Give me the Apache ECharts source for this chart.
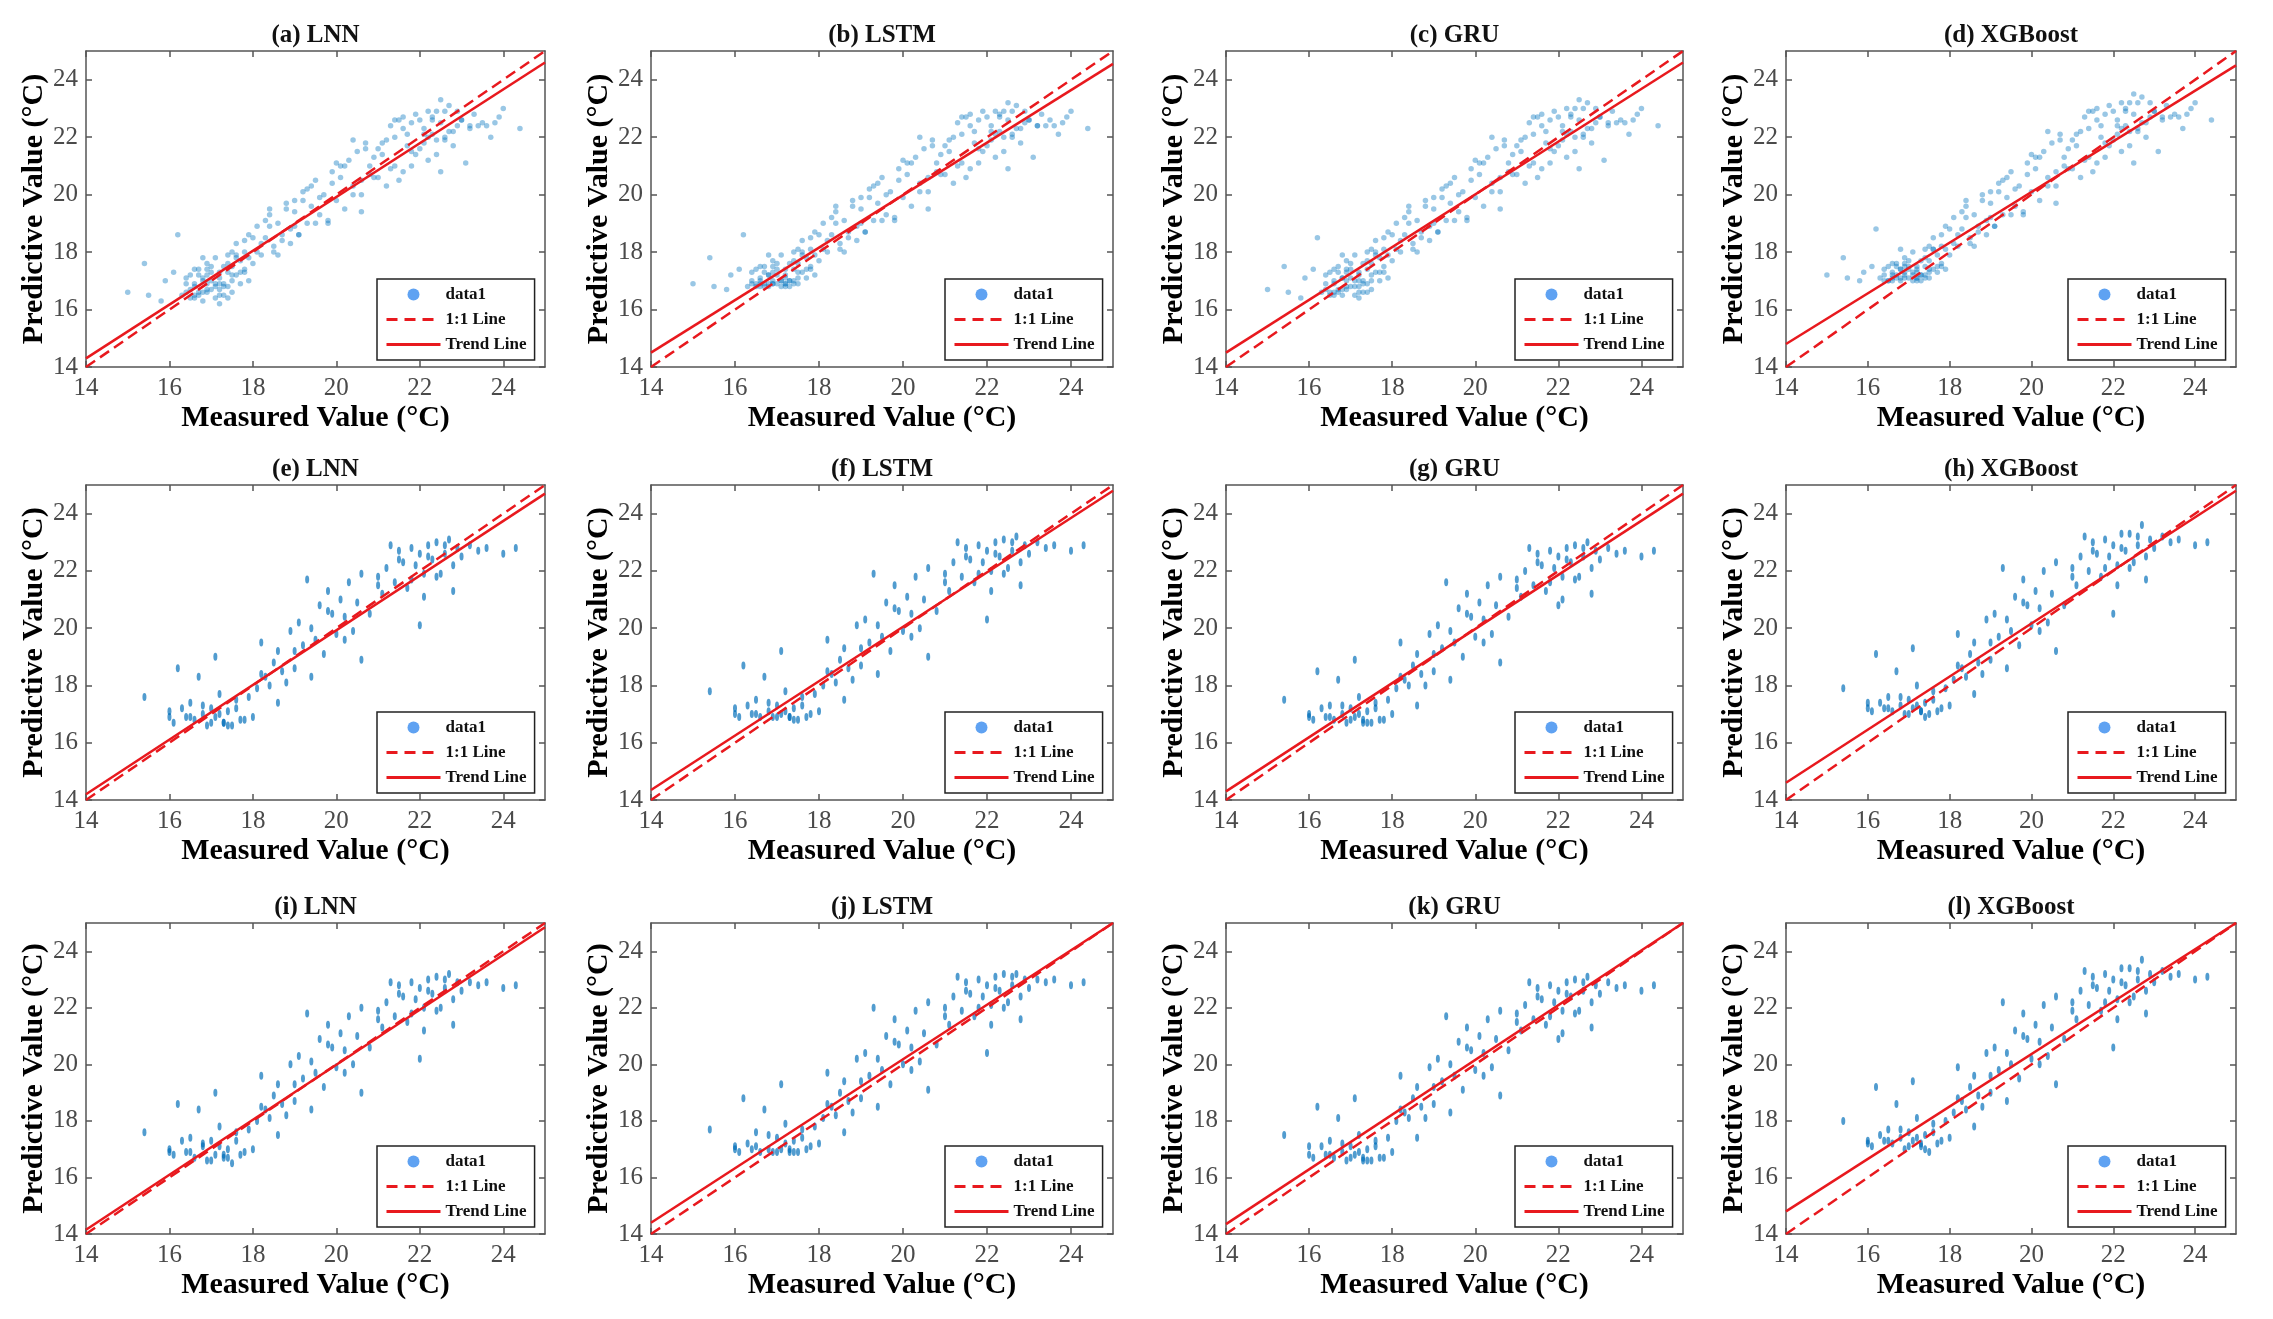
<!DOCTYPE html>
<html>
<head>
<meta charset="utf-8">
<title>Measured vs predictive value</title>
<script src="https://cdn.jsdelivr.net/npm/echarts@6/dist/echarts.min.js"></script>
<style>
  html, body { margin: 0; padding: 0; background: #fff; }
  #chart { width: 2273px; height: 1319px; }
</style>
</head>
<body>
<div id="chart"></div>
<script>
// axis range and ticks (same on every panel)
var axisMin = 14;
var axisMax = 25;
var tickValues = [14, 16, 18, 20, 22, 24];

var panelTitles = ['(a) LNN', '(b) LSTM', '(c) GRU', '(d) XGBoost',
                   '(e) LNN', '(f) LSTM', '(g) GRU', '(h) XGBoost',
                   '(i) LNN', '(j) LSTM', '(k) GRU', '(l) XGBoost'];
var legendNames = ['data1', '1:1 Line', 'Trend Line'];

// trend line value at x = 14 and at x = 25, per panel
var trendAt14 = [14.3, 14.5, 14.5, 14.8, 14.2, 14.35, 14.3, 14.6, 14.15, 14.4, 14.35, 14.8];
var trendAt25 = [24.6, 24.55, 24.6, 24.5, 24.7, 24.8, 24.7, 24.8, 24.85, 25.0, 25.0, 25.0];

// measured values, row 1 (a-d)
var measuredRow1 = [
  15.0, 15.4, 15.5, 15.8, 15.9, 16.1, 16.2, 16.3, 16.4, 16.4,
  16.5, 16.5, 16.6, 16.6, 16.7, 16.7, 16.8, 16.8, 16.9, 16.9,
  17.0, 17.0, 17.1, 17.1, 17.2, 17.2, 17.3, 17.3, 17.4, 17.4,
  17.5, 17.5, 17.6, 17.6, 17.7, 17.7, 17.8, 17.8, 17.9, 17.9,
  16.6, 16.8, 17.0, 17.2, 17.4, 16.9, 17.1, 17.3, 16.7, 17.5,
  18.0, 18.1, 18.2, 18.3, 18.4, 18.5, 18.6, 18.7, 18.8, 18.9,
  19.0, 19.1, 19.2, 19.3, 19.4, 19.5, 19.6, 19.7, 19.8, 19.9,
  20.0, 20.1, 20.2, 20.3, 20.4, 20.5, 20.6, 20.7, 20.8, 20.9,
  18.2, 18.6, 19.0, 19.4, 19.8, 20.2, 20.6, 18.4, 19.2, 20.4,
  21.0, 21.1, 21.2, 21.3, 21.4, 21.5, 21.6, 21.7, 21.8, 21.9,
  22.0, 22.1, 22.2, 22.3, 22.4, 22.5, 22.6, 22.7, 22.8, 22.9,
  21.2, 21.5, 21.8, 22.1, 22.4, 22.7, 21.4, 21.9, 22.3, 22.6,
  23.0, 23.1, 23.2, 23.3, 23.5, 23.7, 23.9, 24.0, 24.4, 23.4,
  16.9, 17.2, 17.6, 18.1, 18.9, 20.8, 21.6, 22.2, 22.5, 21.0,
  16.4, 16.5, 16.6, 16.7, 16.8, 16.9, 17.0, 17.1, 17.2, 17.3,
  17.4, 17.5, 17.6, 17.7, 17.8, 16.6, 16.9, 17.2, 17.5, 17.8,
  18.0, 18.3, 18.5, 18.8, 19.1, 19.3, 19.6, 19.9, 20.1, 20.4,
  20.7, 20.9, 19.0, 19.5, 20.0, 18.7, 18.4, 20.6, 21.1, 21.3,
  21.6, 21.8, 22.0, 22.2, 22.4, 22.6, 22.8, 23.0, 23.2, 22.1,
  21.7, 22.5, 23.6, 23.8, 22.9, 21.4, 22.3, 17.9, 17.4, 16.8
];
var predA = [
  16.6, 17.6, 16.5, 16.3, 17.0, 17.3, 18.6, 16.5, 17.1, 16.6,
  16.4, 17.2, 16.8, 16.5, 17.4, 16.6, 17.0, 16.3, 17.6, 16.9,
  16.7, 17.3, 16.4, 17.8, 16.9, 17.1, 16.5, 17.5, 16.8, 17.9,
  16.6, 18.0, 17.2, 18.3, 16.9, 17.7, 17.4, 18.4, 17.0, 18.6,
  16.9, 16.6, 17.0, 16.2, 17.3, 16.7, 16.9, 16.8, 17.2, 17.5,
  17.6, 18.9, 17.9, 18.5, 19.3, 18.2, 19.0, 18.4, 19.7, 18.8,
  19.4, 18.6, 20.1, 19.0, 19.6, 20.5, 19.3, 20.0, 19.1, 20.8,
  19.8, 20.6, 19.5, 21.2, 20.3, 21.5, 20.0, 21.8, 20.7, 21.3,
  18.3, 17.9, 18.9, 20.3, 19.0, 21.0, 19.4, 19.5, 19.8, 21.9,
  20.6, 21.8, 20.3, 22.4, 21.0, 22.6, 20.8, 22.1, 21.5, 22.8,
  21.6, 22.3, 21.2, 22.7, 21.9, 22.5, 22.0, 23.1, 21.7, 22.4,
  21.9, 20.5, 22.5, 22.1, 22.9, 22.2, 22.0, 21.4, 22.6, 21.9,
  22.6, 21.1, 22.3, 22.8, 22.5, 22.0, 22.7, 23.0, 22.3, 22.4,
  17.2, 16.5, 17.8, 18.0, 18.3, 21.0, 22.7, 22.0, 23.3, 21.6,
  16.9, 16.7, 17.4, 16.5, 17.1, 16.6, 17.5, 16.8, 17.3, 16.9,
  17.6, 17.2, 17.9, 17.3, 18.0, 16.4, 17.4, 16.7, 17.0, 17.3,
  18.5, 19.1, 18.0, 19.5, 18.6, 20.2, 19.9, 20.4, 21.0, 20.0,
  21.6, 20.6, 19.8, 19.0, 21.1, 18.6, 18.9, 20.5, 21.4, 20.9,
  22.3, 21.0, 22.6, 22.9, 21.4, 22.9, 22.2, 22.6, 22.4, 21.8,
  21.7, 20.8, 22.4, 22.5, 22.9, 22.6, 22.1, 17.8, 16.4, 17.8
];
var predB = [
  16.9, 17.8, 16.8, 16.7, 17.2, 17.4, 18.6, 16.8, 17.3, 16.9,
  16.8, 17.4, 17.0, 16.9, 17.5, 16.9, 17.2, 16.8, 17.7, 17.0,
  16.9, 17.4, 16.8, 17.9, 17.1, 17.2, 16.8, 17.6, 17.0, 18.0,
  16.9, 18.1, 17.3, 18.4, 17.1, 17.8, 17.5, 18.5, 17.2, 18.7,
  17.1, 16.9, 17.2, 16.8, 17.4, 16.9, 17.0, 17.0, 17.3, 17.6,
  17.7, 19.0, 18.0, 18.6, 19.4, 18.3, 19.1, 18.5, 19.8, 18.9,
  19.5, 18.7, 20.2, 19.1, 19.7, 20.6, 19.3, 20.1, 19.2, 20.9,
  19.9, 20.7, 19.6, 21.3, 20.4, 21.6, 20.1, 21.9, 20.8, 21.4,
  18.4, 18.0, 19.0, 20.4, 19.1, 21.1, 19.5, 19.6, 19.9, 22.0,
  20.7, 21.9, 20.4, 22.5, 21.1, 22.7, 20.9, 22.2, 21.6, 22.9,
  21.7, 22.4, 21.3, 22.8, 22.0, 22.6, 22.1, 23.1, 21.8, 22.5,
  22.0, 20.6, 22.6, 22.2, 22.9, 22.3, 22.1, 21.5, 22.7, 22.0,
  22.6, 21.3, 22.4, 22.8, 22.6, 22.1, 22.7, 22.9, 22.3, 22.4,
  17.3, 16.9, 17.9, 18.1, 18.4, 21.1, 22.8, 22.1, 23.2, 21.7,
  17.0, 16.9, 17.5, 16.8, 17.2, 16.9, 17.6, 17.0, 17.4, 17.0,
  17.7, 17.3, 18.0, 17.4, 18.1, 16.8, 17.5, 16.9, 17.1, 17.4,
  18.6, 19.2, 18.1, 19.6, 18.7, 20.3, 20.0, 20.5, 21.1, 20.1,
  21.7, 20.7, 19.9, 19.1, 21.2, 18.7, 19.0, 20.6, 21.5, 21.0,
  22.4, 21.1, 22.7, 22.9, 21.5, 22.9, 22.3, 22.6, 22.4, 21.9,
  21.8, 20.9, 22.4, 22.5, 22.9, 22.7, 22.2, 17.9, 16.9, 17.9
];
var predC = [
  16.7, 17.5, 16.6, 16.4, 17.1, 17.4, 18.5, 16.6, 17.2, 16.7,
  16.5, 17.3, 16.9, 16.6, 17.5, 16.7, 17.1, 16.5, 17.7, 17.0,
  16.8, 17.4, 16.5, 17.9, 17.0, 17.2, 16.6, 17.6, 16.9, 18.0,
  16.7, 18.1, 17.3, 18.4, 17.0, 17.8, 17.5, 18.5, 17.1, 18.7,
  17.0, 16.7, 17.1, 16.4, 17.4, 16.8, 17.0, 16.9, 17.3, 17.6,
  17.7, 19.0, 18.0, 18.6, 19.4, 18.3, 19.1, 18.5, 19.8, 18.9,
  19.5, 18.7, 20.2, 19.1, 19.7, 20.6, 19.4, 20.1, 19.2, 20.9,
  19.9, 20.7, 19.6, 21.3, 20.4, 21.6, 20.1, 21.9, 20.8, 21.4,
  18.4, 18.0, 19.0, 20.4, 19.1, 21.1, 19.5, 19.6, 19.9, 22.0,
  20.7, 21.9, 20.4, 22.5, 21.1, 22.7, 20.9, 22.2, 21.6, 22.9,
  21.7, 22.4, 21.3, 22.8, 22.0, 22.6, 22.1, 23.2, 21.8, 22.5,
  22.0, 20.6, 22.6, 22.2, 23.0, 22.3, 22.1, 21.5, 22.7, 22.0,
  22.7, 21.2, 22.4, 22.9, 22.6, 22.1, 22.8, 23.0, 22.4, 22.5,
  17.3, 16.6, 17.9, 18.1, 18.4, 21.1, 22.8, 22.1, 23.3, 21.7,
  16.9, 16.6, 17.4, 16.6, 17.1, 16.7, 17.6, 16.8, 17.3, 17.0,
  17.7, 17.2, 18.0, 17.3, 18.1, 16.5, 17.4, 16.8, 17.0, 17.3,
  18.6, 19.2, 18.1, 19.6, 18.7, 20.3, 20.0, 20.5, 21.1, 20.1,
  21.7, 20.7, 19.9, 19.1, 21.2, 18.7, 19.0, 20.6, 21.5, 21.0,
  22.4, 21.1, 22.7, 23.0, 21.5, 23.0, 22.3, 22.7, 22.5, 21.9,
  21.8, 20.9, 22.5, 22.6, 23.0, 22.7, 22.2, 17.9, 16.6, 17.9
];
var predD = [
  17.2, 17.8, 17.1, 17.0, 17.3, 17.5, 18.8, 17.1, 17.4, 17.0,
  17.0, 17.5, 17.2, 17.1, 17.6, 17.2, 17.4, 17.0, 17.8, 17.3,
  17.1, 17.5, 17.0, 18.0, 17.3, 17.4, 17.0, 17.7, 17.2, 18.1,
  17.1, 18.2, 17.4, 18.5, 17.3, 17.9, 17.6, 18.6, 17.4, 18.9,
  17.3, 17.1, 17.4, 17.0, 17.5, 17.2, 17.3, 17.2, 17.5, 17.7,
  17.9, 19.2, 18.2, 18.8, 19.6, 18.5, 19.3, 18.7, 20.0, 19.1,
  19.7, 18.9, 20.4, 19.3, 19.9, 20.8, 19.6, 20.3, 19.4, 21.1,
  20.1, 20.9, 19.8, 21.5, 20.6, 21.8, 20.3, 22.1, 21.0, 21.6,
  18.6, 18.2, 19.2, 20.6, 19.3, 21.3, 19.7, 19.8, 20.1, 22.2,
  20.9, 22.1, 20.6, 22.7, 21.3, 22.9, 21.1, 22.4, 21.8, 23.1,
  21.9, 22.6, 21.5, 23.0, 22.2, 22.8, 22.3, 23.4, 22.0, 22.7,
  22.2, 20.8, 22.8, 22.4, 23.2, 22.5, 22.3, 21.7, 22.9, 22.2,
  22.9, 21.5, 22.6, 23.1, 22.8, 22.3, 23.0, 23.2, 22.6, 22.7,
  17.5, 17.1, 18.1, 18.3, 18.6, 21.3, 23.0, 22.3, 23.5, 21.9,
  17.2, 17.0, 17.6, 17.1, 17.4, 17.1, 17.7, 17.2, 17.5, 17.2,
  17.8, 17.4, 18.1, 17.5, 18.2, 17.0, 17.6, 17.1, 17.3, 17.5,
  18.8, 19.4, 18.3, 19.8, 18.9, 20.5, 20.2, 20.7, 21.3, 20.3,
  21.9, 20.9, 20.1, 19.3, 21.4, 18.9, 19.2, 20.8, 21.7, 21.2,
  22.6, 21.3, 22.9, 23.2, 21.7, 23.2, 22.5, 22.9, 22.7, 22.1,
  22.0, 21.1, 22.7, 22.8, 23.2, 22.9, 22.4, 18.1, 17.1, 18.1
];

// measured values, rows 2 and 3 (e-l)
var measuredRow23 = [
  15.4, 16.0, 16.0, 16.1, 16.2, 16.3, 16.4, 16.5, 16.6, 16.7,
  16.8, 16.9, 17.0, 17.1, 17.2, 17.3, 17.4, 17.5, 17.6, 17.7,
  16.5, 16.8, 17.0, 17.2, 17.4, 17.6, 17.8, 17.9, 18.0, 17.1,
  18.1, 18.2, 18.3, 18.4, 18.5, 18.6, 18.7, 18.8, 18.9, 19.0,
  19.1, 19.2, 19.3, 19.4, 19.5, 19.6, 19.7, 19.8, 19.9, 20.0,
  20.1, 20.2, 20.3, 20.4, 20.5, 20.6, 20.8, 21.0, 21.1, 21.2,
  21.3, 21.4, 21.5, 21.6, 21.7, 21.8, 21.9, 22.0, 22.1, 22.2,
  22.3, 22.4, 22.5, 22.6, 22.7, 22.8, 22.9, 23.0, 23.2, 23.4,
  21.5, 21.8, 22.0, 22.2, 22.4, 22.6, 22.8, 23.6, 24.0, 24.3,
  18.2, 18.6, 19.0, 19.4, 19.8, 20.2, 20.6, 21.0, 22.1, 17.3
];
var predE = [
  17.6, 17.1, 16.9, 16.7, 18.6, 17.2, 16.9, 17.4, 16.8, 18.3,
  17.0, 16.6, 17.2, 16.9, 17.7, 16.7, 17.1, 16.6, 17.5, 16.8,
  16.9, 17.3, 16.7, 17.0, 16.6, 17.2, 16.8, 17.6, 16.9, 19.0,
  17.9, 19.5, 18.3, 18.0, 18.8, 19.2, 18.5, 18.1, 19.9, 18.6,
  20.2, 19.4, 21.7, 20.0, 19.6, 20.8, 19.1, 21.3, 20.5, 19.8,
  21.0, 20.4, 21.6, 19.9, 20.9, 21.9, 20.5, 21.8, 21.2, 22.1,
  22.9, 21.6, 22.7, 22.3, 21.4, 22.8, 22.2, 22.6, 21.1, 22.9,
  22.4, 23.0, 21.9, 22.6, 23.1, 22.2, 22.8, 22.5, 22.9, 22.7,
  22.4, 21.7, 20.1, 22.5, 21.8, 22.9, 21.3, 22.8, 22.6, 22.8,
  18.4, 17.4, 19.2, 18.3, 20.6, 19.6, 18.9, 21.5, 21.9, 16.7
];
var predF = [
  17.8, 17.2, 17.0, 16.9, 18.7, 17.3, 17.0, 17.5, 16.9, 18.3,
  17.1, 16.9, 17.3, 17.0, 17.8, 16.9, 17.2, 16.8, 17.6, 16.9,
  17.0, 17.4, 16.9, 17.1, 16.8, 17.3, 17.0, 17.7, 17.1, 19.2,
  18.0, 19.6, 18.4, 18.1, 18.9, 19.3, 18.6, 18.2, 20.1, 18.7,
  20.3, 19.5, 21.9, 20.1, 19.7, 20.9, 19.2, 21.5, 20.6, 19.9,
  21.1, 20.5, 21.8, 20.0, 21.0, 22.1, 20.6, 21.9, 21.3, 22.3,
  23.0, 21.8, 22.8, 22.4, 21.6, 22.9, 22.3, 22.7, 21.3, 23.0,
  22.5, 23.1, 22.1, 22.7, 23.2, 22.3, 22.9, 22.6, 23.0, 22.8,
  22.5, 21.9, 20.3, 22.6, 21.9, 23.0, 21.5, 22.9, 22.7, 22.9,
  18.5, 17.5, 19.3, 18.4, 20.7, 19.7, 19.0, 21.6, 22.0, 16.9
];
var predG = [
  17.5, 17.0, 16.9, 16.8, 18.5, 17.2, 16.9, 17.3, 16.8, 18.2,
  17.0, 16.7, 17.2, 16.9, 17.6, 16.7, 17.1, 16.7, 17.4, 16.8,
  16.9, 17.3, 16.8, 17.0, 16.7, 17.2, 16.8, 17.5, 17.0, 18.9,
  17.9, 19.5, 18.2, 18.0, 18.7, 19.1, 18.4, 18.0, 19.8, 18.5,
  20.1, 19.3, 21.6, 19.9, 19.5, 20.7, 19.0, 21.2, 20.4, 19.7,
  20.9, 20.3, 21.5, 19.8, 20.8, 21.8, 20.4, 21.7, 21.1, 22.0,
  22.8, 21.5, 22.6, 22.2, 21.3, 22.7, 22.1, 22.5, 21.0, 22.8,
  22.3, 22.9, 21.8, 22.5, 23.0, 22.1, 22.7, 22.4, 22.8, 22.6,
  22.3, 21.6, 20.8, 22.4, 21.7, 22.8, 21.2, 22.7, 22.5, 22.7,
  18.3, 17.3, 19.1, 18.2, 20.5, 19.5, 18.8, 21.4, 21.8, 16.8
];
var predH = [
  17.9, 17.4, 17.2, 17.1, 19.1, 17.4, 17.2, 17.6, 17.1, 18.5,
  17.3, 17.0, 17.5, 17.2, 18.0, 17.1, 17.4, 17.0, 17.8, 17.1,
  17.2, 17.6, 17.0, 17.3, 16.9, 17.5, 17.2, 17.9, 17.3, 19.3,
  18.2, 19.8, 18.6, 18.3, 19.1, 19.5, 18.8, 18.4, 20.3, 18.9,
  20.5, 19.7, 22.1, 20.3, 19.9, 21.1, 19.4, 21.7, 20.8, 20.1,
  21.3, 20.7, 22.0, 20.2, 21.2, 22.3, 20.8, 22.1, 21.5, 22.5,
  23.2, 22.0, 23.0, 22.6, 21.8, 23.1, 22.5, 22.9, 21.5, 23.3,
  22.7, 23.3, 22.3, 22.9, 23.6, 22.5, 23.1, 22.8, 23.2, 23.0,
  22.7, 22.1, 20.5, 22.8, 22.1, 23.2, 21.7, 23.1, 22.9, 23.0,
  18.7, 17.7, 19.5, 18.6, 20.9, 19.9, 19.2, 21.8, 22.2, 17.1
];
var predI = [
  17.6, 17.0, 16.9, 16.8, 18.6, 17.3, 16.9, 17.4, 16.7, 18.4,
  17.1, 16.6, 17.3, 16.8, 17.8, 16.7, 17.0, 16.5, 17.6, 16.8,
  16.9, 17.2, 16.6, 17.1, 16.7, 17.3, 16.9, 17.7, 17.0, 19.0,
  18.0, 19.6, 18.4, 18.1, 18.9, 19.3, 18.6, 18.2, 20.0, 18.7,
  20.3, 19.5, 21.8, 20.1, 19.7, 20.9, 19.2, 21.4, 20.6, 19.9,
  21.1, 20.5, 21.7, 20.0, 21.0, 22.0, 20.6, 21.9, 21.3, 22.2,
  22.9, 21.7, 22.8, 22.4, 21.5, 22.9, 22.3, 22.7, 21.2, 23.0,
  22.5, 23.1, 22.0, 22.7, 23.2, 22.3, 22.9, 22.6, 22.9, 22.8,
  22.5, 21.8, 20.2, 22.6, 21.9, 23.0, 21.4, 22.9, 22.7, 22.8,
  18.5, 17.5, 19.3, 18.4, 20.7, 19.7, 19.0, 21.6, 22.0, 16.8
];
var predJ = [
  17.7, 17.1, 17.0, 16.9, 18.8, 17.2, 17.0, 17.6, 16.9, 18.4,
  17.0, 16.9, 17.4, 17.0, 17.9, 16.9, 17.3, 16.9, 17.7, 17.0,
  17.1, 17.5, 16.9, 17.2, 16.9, 17.4, 17.1, 17.8, 17.2, 19.3,
  18.1, 19.7, 18.5, 18.2, 19.0, 19.4, 18.7, 18.3, 20.2, 18.8,
  20.4, 19.6, 22.0, 20.2, 19.8, 21.0, 19.3, 21.6, 20.7, 20.0,
  21.2, 20.6, 21.9, 20.1, 21.1, 22.2, 20.7, 22.0, 21.4, 22.4,
  23.1, 21.9, 22.9, 22.5, 21.7, 23.0, 22.4, 22.8, 21.4, 23.1,
  22.6, 23.2, 22.2, 22.8, 23.2, 22.4, 23.0, 22.7, 23.0, 22.9,
  22.6, 22.0, 20.4, 22.7, 22.0, 23.1, 21.6, 23.0, 22.8, 22.9,
  18.6, 17.6, 19.4, 18.5, 20.8, 19.8, 19.1, 21.7, 22.1, 17.0
];
var predK = [
  17.5, 17.1, 16.8, 16.7, 18.5, 17.1, 16.8, 17.3, 16.7, 18.1,
  16.9, 16.6, 17.1, 16.8, 17.5, 16.6, 17.0, 16.6, 17.3, 16.7,
  16.8, 17.2, 16.7, 16.9, 16.6, 17.1, 16.7, 17.4, 16.9, 18.8,
  18.0, 19.6, 18.3, 18.1, 18.8, 19.2, 18.5, 18.1, 19.9, 18.6,
  20.2, 19.4, 21.7, 20.0, 19.6, 20.8, 19.1, 21.3, 20.5, 19.8,
  21.0, 20.4, 21.6, 19.9, 20.9, 21.9, 20.5, 21.8, 21.2, 22.1,
  22.9, 21.6, 22.7, 22.3, 21.4, 22.8, 22.2, 22.6, 21.1, 22.9,
  22.4, 23.0, 21.9, 22.6, 23.1, 22.2, 22.8, 22.5, 22.9, 22.7,
  22.4, 21.7, 20.9, 22.5, 21.8, 22.9, 21.3, 22.8, 22.6, 22.8,
  18.4, 17.4, 19.2, 18.3, 20.6, 19.6, 18.9, 21.5, 21.9, 16.7
];
var predL = [
  18.0, 17.3, 17.2, 17.1, 19.2, 17.5, 17.3, 17.7, 17.2, 18.6,
  17.4, 17.0, 17.6, 17.3, 18.1, 17.1, 17.5, 16.9, 17.9, 17.2,
  17.3, 17.7, 17.1, 17.4, 17.0, 17.6, 17.3, 18.0, 17.4, 19.4,
  18.3, 19.9, 18.7, 18.4, 19.2, 19.6, 18.9, 18.5, 20.4, 19.0,
  20.6, 19.8, 22.2, 20.4, 20.0, 21.2, 19.5, 21.8, 20.9, 20.2,
  21.4, 20.8, 22.1, 20.3, 21.3, 22.4, 20.9, 22.2, 21.6, 22.6,
  23.3, 22.1, 23.1, 22.7, 21.9, 23.2, 22.6, 23.0, 21.6, 23.4,
  22.8, 23.4, 22.4, 23.0, 23.7, 22.6, 23.2, 22.9, 23.3, 23.1,
  22.8, 22.2, 20.6, 22.9, 22.2, 23.3, 21.8, 23.2, 23.0, 23.1,
  18.8, 17.8, 19.6, 18.7, 21.0, 20.0, 19.3, 21.9, 22.3, 17.2
];

var panelMeasured = [measuredRow1, measuredRow1, measuredRow1, measuredRow1,
                     measuredRow23, measuredRow23, measuredRow23, measuredRow23,
                     measuredRow23, measuredRow23, measuredRow23, measuredRow23];
var panelPredicted = [predA, predB, predC, predD, predE, predF, predG, predH, predI, predJ, predK, predL];

// page layout (pixels)
var colLeft = [86, 651, 1226, 1786];
var colWidth = [459, 462, 457, 450];
var rowTop = [51, 485, 923];
var rowHeight = [316, 315, 311];

var serif = 'Liberation Serif';
var frameColor = '#555';
var red = '#e8191e';

function toPoints(xs, ys) {
	var pts = [];
	for (var k = 0; k < xs.length; k++) {
		pts.push([xs[k], ys[k]]);
	}
	return pts;
}

var grids = [], xAxes = [], yAxes = [], titles = [], legends = [], series = [];

for (var i = 0; i < 12; i++) {
	var r = Math.floor(i / 4), c = i % 4;
	var gl = colLeft[c], gt = rowTop[r], gw = colWidth[c], gh = rowHeight[r];

	grids.push({ left: gl, top: gt, width: gw, height: gh, containLabel: false });

	titles.push({
		text: panelTitles[i],
		left: gl + gw / 2,
		top: gt - 15,
		textAlign: 'center',
		textVerticalAlign: 'middle',
		padding: 0,
		textStyle: { fontFamily: serif, fontWeight: 'bold', fontSize: 25, color: '#111' }
	});

	var frameLine = { show: true, onZero: false, lineStyle: { color: frameColor, width: 1.5 } };
	var innerTick = { show: true, inside: true, length: 6, customValues: tickValues, lineStyle: { color: frameColor, width: 1.5 } };

	// bottom + top x axes
	xAxes.push({
		gridIndex: i, type: 'value', position: 'bottom',
		min: axisMin, max: axisMax, interval: 2,
		name: 'Measured Value (°C)', nameLocation: 'middle', nameGap: 36,
		nameTextStyle: { fontFamily: serif, fontWeight: 'bold', fontSize: 30, color: '#000' },
		axisLine: frameLine, axisTick: innerTick,
		axisLabel: { customValues: tickValues, margin: 9, fontFamily: serif, fontSize: 25, color: '#4a4a4a' },
		splitLine: { show: false }
	});
	xAxes.push({
		gridIndex: i, type: 'value', position: 'top',
		min: axisMin, max: axisMax, interval: 2,
		axisLine: frameLine, axisTick: innerTick,
		axisLabel: { show: false }, splitLine: { show: false }
	});
	// left + right y axes
	yAxes.push({
		gridIndex: i, type: 'value', position: 'left',
		min: axisMin, max: axisMax, interval: 2,
		name: 'Predictive Value (°C)', nameLocation: 'middle', nameGap: 36,
		nameTextStyle: { fontFamily: serif, fontWeight: 'bold', fontSize: 30, color: '#000' },
		axisLine: frameLine, axisTick: innerTick,
		axisLabel: { customValues: tickValues, margin: 8, fontFamily: serif, fontSize: 25, color: '#4a4a4a' },
		splitLine: { show: false }
	});
	yAxes.push({
		gridIndex: i, type: 'value', position: 'right',
		min: axisMin, max: axisMax, interval: 2,
		axisLine: frameLine, axisTick: innerTick,
		axisLabel: { show: false }, splitLine: { show: false }
	});

	var dense = r === 0;
	series.push({
		name: legendNames[0], type: 'scatter',
		xAxisIndex: 2 * i, yAxisIndex: 2 * i,
		data: toPoints(panelMeasured[i], panelPredicted[i]),
		symbol: 'circle',
		symbolSize: dense ? [5.5, 5.5] : [4, 8],
		itemStyle: { color: dense ? 'rgba(0,114,189,0.5)' : 'rgba(0,110,185,0.85)' },
		silent: true, z: 2
	});
	series.push({
		name: legendNames[1], type: 'line',
		xAxisIndex: 2 * i, yAxisIndex: 2 * i,
		data: [[axisMin, axisMin], [axisMax, axisMax]],
		symbol: 'none', showSymbol: false,
		lineStyle: { color: red, width: 2.5, type: [11, 6] },
		itemStyle: { color: red },
		silent: true, z: 3
	});
	series.push({
		name: legendNames[2], type: 'line',
		xAxisIndex: 2 * i, yAxisIndex: 2 * i,
		data: [[axisMin, trendAt14[i]], [axisMax, trendAt25[i]]],
		symbol: 'none', showSymbol: false,
		lineStyle: { color: red, width: 2.5, type: 'solid' },
		itemStyle: { color: red },
		silent: true, z: 4
	});

	legends.push({
		orient: 'vertical',
		left: gl + gw - 14 - 154,
		top: gt + gh - 12 - 76,
		data: [
			{ name: legendNames[0], icon: 'circle', itemStyle: { color: '#5fa2f2', opacity: 1 } },
			{ name: legendNames[1], itemStyle: { opacity: 0 }, lineStyle: { width: 3, type: [11, 7] } },
			{ name: legendNames[2], itemStyle: { opacity: 0 }, lineStyle: { width: 3 } }
		],
		itemWidth: 54, itemHeight: 12, itemGap: 8,
		padding: [7, 8, 7, 8],
		borderColor: '#222', borderWidth: 1.5, backgroundColor: '#fff',
		textStyle: { fontFamily: serif, fontWeight: 'bold', fontSize: 17, color: '#111' },
		selectedMode: false, z: 10
	});
}

var myChart = echarts.init(document.getElementById('chart'));
myChart.setOption({
	backgroundColor: '#fff',
	animation: false,
	title: titles,
	grid: grids,
	xAxis: xAxes,
	yAxis: yAxes,
	legend: legends,
	series: series
});
</script>
</body>
</html>
